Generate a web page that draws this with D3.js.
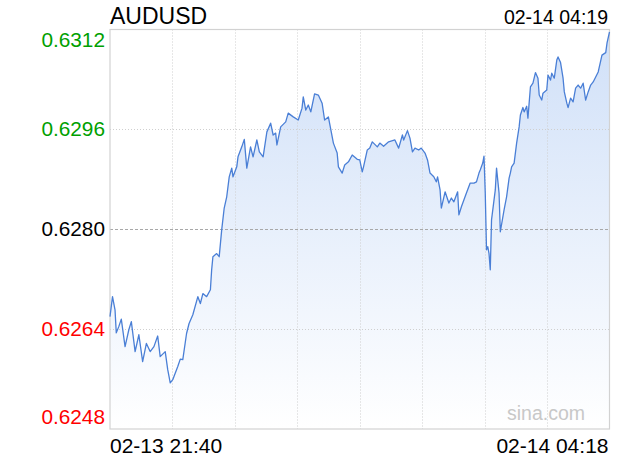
<!DOCTYPE html>
<html>
<head>
<meta charset="utf-8">
<script src="https://cdn.jsdelivr.net/npm/d3@7/dist/d3.min.js"></script>
<style>
  html, body { margin: 0; padding: 0; background: #fff; }
  svg { display: block; font-family: "Liberation Sans", Arial, sans-serif; }
</style>
</head>
<body>
<svg id="chart" width="620" height="460"></svg>
<script>
// ---- data ----
const symbol = "AUDUSD";
const lastTime = "02-14 04:19";
const startLabel = "02-13 21:40";
const endLabel = "02-14 04:18";
const watermark = "sina.com";
const prevClose = 0.6280;
const yTicks = [0.6248, 0.6264, 0.6280, 0.6296, 0.6312];
const yTickLabels = ["0.6248", "0.6264", "0.6280", "0.6296", "0.6312"];
// minutes after 02-13 21:40
const minutes = [0,2,4,5,7,9,12,15,17,20,23,26,29,32,35,38,40,44,46,48,50,54,56,58,61,63,66,70,72,74,
  77,80,81,82,85,87,89,91,93,95,97,98,101,102,105,107,109,112,114,117,119,122,125,128,130,132,133,136,140,142,
  146,150,153,154,156,158,160,163,166,169,171,174,178,181,182,185,187,190,193,197,199,201,202,205,207,209,213,215,218,222,
  227,230,233,234,237,239,241,243,246,248,251,253,255,258,260,261,263,264,267,270,272,274,277,278,280,284,287,290,292,294,
  295,297,298,299,300,301,302,303,304,306,307,308,310,311,314,316,318,319,320,322,324,326,327,329,330,332,333,335,337,339,
  341,342,344,345,348,349,351,352,354,356,357,359,361,362,364,365,367,369,371,373,375,377,379,381,383,385,387,389,392,395,
  396,398];
const prices = [0.62660,0.62692,0.62671,0.62634,0.62644,0.62656,0.62612,0.62639,0.62652,0.62604,0.62631,0.62588,0.62617,0.62604,0.62612,0.62629,0.62596,0.62604,0.62575,0.62554,
  0.62559,0.62580,0.62592,0.62591,0.62633,0.62649,0.62663,0.62692,0.62681,0.62697,0.62692,0.62703,0.62735,0.62756,0.62761,0.62756,0.62799,0.62834,0.62852,0.62884,
  0.62898,0.62884,0.62900,0.62916,0.62932,0.62944,0.62898,0.62932,0.62916,0.62943,0.62924,0.62916,0.62956,0.62970,0.62951,0.62954,0.62935,0.62964,0.62972,0.62986,
  0.62980,0.62975,0.62994,0.63012,0.62991,0.62999,0.62988,0.63017,0.63015,0.63002,0.62975,0.62980,0.62938,0.62922,0.62900,0.62890,0.62903,0.62908,0.62919,0.62912,
  0.62911,0.62892,0.62900,0.62927,0.62930,0.62940,0.62932,0.62938,0.62933,0.62940,0.62943,0.62930,0.62951,0.62943,0.62958,0.62946,0.62924,0.62930,0.62927,0.62930,
  0.62922,0.62911,0.62890,0.62884,0.62876,0.62884,0.62863,0.62834,0.62860,0.62842,0.62850,0.62844,0.62860,0.62823,0.62836,0.62858,0.62874,0.62874,0.62876,0.62890,
  0.62895,0.62906,0.62917,0.62858,0.62767,0.62772,0.62761,0.62735,0.62815,0.62847,0.62863,0.62898,0.62858,0.62796,0.62831,0.62852,0.62882,0.62890,0.62900,0.62906,
  0.62938,0.62964,0.62983,0.62995,0.62988,0.62997,0.62978,0.63028,0.63034,0.63051,0.63042,0.63015,0.63007,0.63018,0.63023,0.63047,0.63039,0.63050,0.63042,0.63071,
  0.63076,0.63067,0.63042,0.63020,0.63002,0.62995,0.63010,0.63004,0.63026,0.63031,0.63026,0.63034,0.63007,0.63020,0.63031,0.63036,0.63044,0.63052,0.63079,0.63083,
  0.63098,0.63116];
const totalMinutes = 398;

// ---- layout ----
const svg = d3.select("#chart");
const L = 110, R = 609.5, T = 29.5, B = 429;
const t0 = new Date(Date.UTC(2025, 1, 13, 21, 40));
const toDate = m => new Date(t0.getTime() + m * 60000);
const x = d3.scaleUtc().domain([t0, toDate(totalMinutes)]).range([L, R]);
const y = d3.scaleLinear().domain([yTicks[0], yTicks[yTicks.length - 1]]).range([B, T]);

const data = minutes.map((m, i) => ({ t: toDate(m), v: prices[i] }));

// gradient
const defs = svg.append("defs");
const grad = defs.append("linearGradient").attr("id", "fillGrad")
  .attr("gradientUnits", "userSpaceOnUse")
  .attr("x1", 0).attr("y1", T).attr("x2", 0).attr("y2", B);
grad.append("stop").attr("offset", "0%").attr("stop-color", "#d0e0f8");
grad.append("stop").attr("offset", "100%").attr("stop-color", "#ffffff");

// area
const area = d3.area().x(d => x(d.t)).y0(B).y1(d => y(d.v));
svg.append("path").datum(data).attr("d", area).attr("fill", "url(#fillGrad)");

// vertical grid
const span = totalMinutes / 8;
const vGrid = d3.range(1, 8).map(i => toDate(i * span));
svg.append("g").selectAll("line").data(vGrid).join("line")
  .attr("x1", d => Math.round(x(d)) + 0.5).attr("x2", d => Math.round(x(d)) + 0.5)
  .attr("y1", T).attr("y2", B)
  .attr("stroke", "#cfcfcf").attr("stroke-width", 1).attr("stroke-dasharray", "1,2");

// horizontal grid
svg.append("g").selectAll("line").data(yTicks.slice(1, -1)).join("line")
  .attr("x1", L).attr("x2", R)
  .attr("y1", d => Math.round(y(d)) + 0.5).attr("y2", d => Math.round(y(d)) + 0.5)
  .attr("stroke", d => d === prevClose ? "#a8a8a8" : "#cfcfcf")
  .attr("stroke-width", 1)
  .attr("stroke-dasharray", d => d === prevClose ? "3,2" : "1,2");

// border
svg.append("rect").attr("x", L).attr("y", T).attr("width", R - L).attr("height", B - T)
  .attr("fill", "none").attr("stroke", "#d2d2d2").attr("stroke-width", 1.2);

// line
const line = d3.line().x(d => x(d.t)).y(d => y(d.v));
svg.append("path").datum(data).attr("d", line)
  .attr("fill", "none").attr("stroke", "#4a7fd6").attr("stroke-width", 1.3)
  .attr("stroke-linejoin", "round");

// y labels
const yAxis = d3.axisLeft(y).tickValues(yTicks).tickFormat((d, i) => yTickLabels[i]).tickSize(0).tickPadding(0);
const gy = svg.append("g").attr("transform", `translate(${L - 5},0)`).call(yAxis);
gy.select(".domain").remove();
gy.selectAll("text")
  .attr("font-family", "'Liberation Sans', Arial, sans-serif")
  .attr("font-size", "20.8px")
  .attr("dy", null)
  .attr("y", (d, i) => i === yTicks.length - 1 ? 17.2 : (i === 0 ? -5.7 : 6.5))
  .attr("fill", d => d > prevClose ? "#00a000" : (d < prevClose ? "#ff0000" : "#000"));

// title & time
svg.append("text").attr("x", L).attr("y", 24).attr("font-size", "23px").attr("fill", "#000").text(symbol);
svg.append("text").attr("x", 608).attr("y", 24).attr("text-anchor", "end").attr("font-size", "19.5px").attr("fill", "#000").text(lastTime);

// x labels
svg.append("text").attr("x", x(t0)).attr("y", 453).attr("font-size", "21px").attr("fill", "#000").text(startLabel);
svg.append("text").attr("x", 608.5).attr("y", 453).attr("text-anchor", "end").attr("font-size", "21px").attr("fill", "#000").text(endLabel);

// watermark
svg.append("text").attr("x", 585).attr("y", 420).attr("text-anchor", "end").attr("font-size", "19.5px").attr("fill", "#c8c8c8").text(watermark);
</script>
</body>
</html>
